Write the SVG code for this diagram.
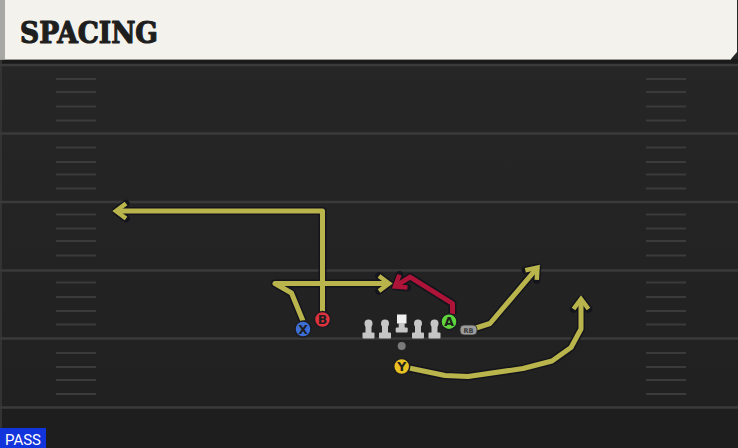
<svg xmlns="http://www.w3.org/2000/svg" width="738" height="448" viewBox="0 0 738 448">
<style>
.yl{stroke:#3a3a3a;stroke-width:2.5}
.hm{stroke:#3b3b3b;stroke-width:2}
.ro{fill:none;stroke:#14141c;stroke-width:8;stroke-linejoin:round;stroke-linecap:butt}
.ry{fill:none;stroke:#b9b54c;stroke-width:5;stroke-linejoin:round}
.rr{fill:none;stroke:#ad1438;stroke-width:5;stroke-linejoin:round}
.pc{stroke:#1c1c22;stroke-width:1.5}
.pl{font-family:"DejaVu Sans","Liberation Sans",sans-serif;font-weight:bold;font-size:12.5px;fill:#1e1e1e;text-anchor:middle}
.ol{fill:#c6c6c6}
</style>
<defs>
<linearGradient id="fg" x1="0" y1="0" x2="0" y2="1">
<stop offset="0" stop-color="#272727"/>
<stop offset="1" stop-color="#202020"/>
</linearGradient>
<marker id="mo" markerUnits="userSpaceOnUse" markerWidth="24" markerHeight="24" refX="0" refY="0" orient="auto" overflow="visible" viewBox="-12 -12 24 24">
<path d="M-10,-7.5 L0,0 L-10,7.5" fill="none" stroke="#14141c" stroke-width="7.5" stroke-linejoin="round" stroke-linecap="round"/>
</marker>
<marker id="my" markerUnits="userSpaceOnUse" markerWidth="24" markerHeight="24" refX="0" refY="0" orient="auto" overflow="visible" viewBox="-12 -12 24 24">
<path d="M-10,-7.5 L0,0 L-10,7.5" fill="none" stroke="#b9b54c" stroke-width="4.5" stroke-linejoin="miter" stroke-linecap="butt"/>
</marker>
<marker id="mr" markerUnits="userSpaceOnUse" markerWidth="24" markerHeight="24" refX="0" refY="0" orient="auto" overflow="visible" viewBox="-12 -12 24 24">
<path d="M-10,-7.5 L0,0 L-10,7.5" fill="none" stroke="#ad1438" stroke-width="4.5" stroke-linejoin="miter" stroke-linecap="butt"/>
</marker>
</defs>

<g id="field">
<rect x="0" y="0" width="738" height="448" fill="url(#fg)"/>
<rect x="0" y="408" width="738" height="40" fill="#1e1e1e"/>
<rect x="0" y="59" width="738" height="5" fill="#1a1a1a"/>
<rect x="0" y="60" width="2" height="388" fill="#333"/>
<line class="yl" x1="0" y1="65" x2="738" y2="65"/>
<line class="yl" x1="0" y1="133.5" x2="738" y2="133.5"/>
<line class="yl" x1="0" y1="202" x2="738" y2="202"/>
<line class="yl" x1="0" y1="270.5" x2="738" y2="270.5"/>
<line class="yl" x1="0" y1="338.5" x2="738" y2="338.5"/>
<line class="yl" x1="0" y1="407.5" x2="738" y2="407.5"/>
<g id="hashes-left">
<line class="hm" x1="56" y1="79" x2="96" y2="79"/>
<line class="hm" x1="56" y1="92" x2="96" y2="92"/>
<line class="hm" x1="56" y1="106.5" x2="96" y2="106.5"/>
<line class="hm" x1="56" y1="120.5" x2="96" y2="120.5"/>
<line class="hm" x1="56" y1="147.5" x2="96" y2="147.5"/>
<line class="hm" x1="56" y1="162" x2="96" y2="162"/>
<line class="hm" x1="56" y1="174.5" x2="96" y2="174.5"/>
<line class="hm" x1="56" y1="188.5" x2="96" y2="188.5"/>
<line class="hm" x1="56" y1="214.5" x2="96" y2="214.5"/>
<line class="hm" x1="56" y1="228.5" x2="96" y2="228.5"/>
<line class="hm" x1="56" y1="241" x2="96" y2="241"/>
<line class="hm" x1="56" y1="255.5" x2="96" y2="255.5"/>
<line class="hm" x1="56" y1="282.5" x2="96" y2="282.5"/>
<line class="hm" x1="56" y1="297" x2="96" y2="297"/>
<line class="hm" x1="56" y1="311" x2="96" y2="311"/>
<line class="hm" x1="56" y1="324.5" x2="96" y2="324.5"/>
<line class="hm" x1="56" y1="353" x2="96" y2="353"/>
<line class="hm" x1="56" y1="367" x2="96" y2="367"/>
<line class="hm" x1="56" y1="380" x2="96" y2="380"/>
<line class="hm" x1="56" y1="394" x2="96" y2="394"/>
</g>
<g id="hashes-right">
<line class="hm" x1="646" y1="79" x2="686" y2="79"/>
<line class="hm" x1="646" y1="92" x2="686" y2="92"/>
<line class="hm" x1="646" y1="106.5" x2="686" y2="106.5"/>
<line class="hm" x1="646" y1="120.5" x2="686" y2="120.5"/>
<line class="hm" x1="646" y1="147.5" x2="686" y2="147.5"/>
<line class="hm" x1="646" y1="162" x2="686" y2="162"/>
<line class="hm" x1="646" y1="174.5" x2="686" y2="174.5"/>
<line class="hm" x1="646" y1="188.5" x2="686" y2="188.5"/>
<line class="hm" x1="646" y1="214.5" x2="686" y2="214.5"/>
<line class="hm" x1="646" y1="228.5" x2="686" y2="228.5"/>
<line class="hm" x1="646" y1="241" x2="686" y2="241"/>
<line class="hm" x1="646" y1="255.5" x2="686" y2="255.5"/>
<line class="hm" x1="646" y1="282.5" x2="686" y2="282.5"/>
<line class="hm" x1="646" y1="297" x2="686" y2="297"/>
<line class="hm" x1="646" y1="311" x2="686" y2="311"/>
<line class="hm" x1="646" y1="324.5" x2="686" y2="324.5"/>
<line class="hm" x1="646" y1="353" x2="686" y2="353"/>
<line class="hm" x1="646" y1="367" x2="686" y2="367"/>
<line class="hm" x1="646" y1="380" x2="686" y2="380"/>
<line class="hm" x1="646" y1="394" x2="686" y2="394"/>
</g>
</g>

<g id="header">
<path d="M0,0 H737 V52 L731,59 H0 Z" fill="#f4f2ec"/>
<rect x="0" y="0" width="5" height="59" fill="#a8a8a4"/>
<line x1="0" y1="59.5" x2="731" y2="59.5" stroke="#9a9a96" stroke-width="1"/>
<text x="20" y="43" font-family="'DejaVu Serif','Liberation Serif',serif" font-weight="bold" font-size="29" fill="#1e1e1e" stroke="#1e1e1e" stroke-width="1.2" stroke-linejoin="round" textLength="138" lengthAdjust="spacingAndGlyphs">SPACING</text>
</g>

<g id="connectors">
<path class="ro" marker-end="url(#mo)" d="M322.5,312 L322.5,211 L116,211"/>
<path class="ro" marker-end="url(#mo)" d="M303,321 L291.5,293 L275,283.5 L389,283.5"/>
<path class="ro" marker-end="url(#mo)" d="M452.5,314 L452.5,303.5 L410,277 L395,286.5"/>
<path class="ro" marker-end="url(#mo)" d="M476,328 L490,323.5 L537.5,267.5"/>
<path class="ro" marker-end="url(#mo)" d="M409,368 L445,375.5 L468,376.5 L523,368.5 L552,361 L571,347.5 L581,329 L581,299"/>
<path class="ry" marker-end="url(#my)" d="M322.5,312 L322.5,211 L116,211"/>
<path class="ry" marker-end="url(#my)" d="M303,321 L291.5,293 L275,283.5 L389,283.5"/>
<path class="rr" marker-end="url(#mr)" d="M452.5,314 L452.5,303.5 L410,277 L395,286.5"/>
<path class="ry" marker-end="url(#my)" d="M476,328 L490,323.5 L537.5,267.5"/>
<path class="ry" marker-end="url(#my)" d="M409,368 L445,375.5 L468,376.5 L523,368.5 L552,361 L571,347.5 L581,329 L581,299"/>
</g>

<g id="line-LT">
<circle class="ol" cx="368.5" cy="323.5" r="4"/>
<rect class="ol" x="365.5" y="323.5" width="6" height="10"/>
<rect class="ol" x="362.5" y="332.5" width="12" height="6" rx="1"/>
</g>
<g id="line-LG">
<circle class="ol" cx="385" cy="323.5" r="4"/>
<rect class="ol" x="382" y="323.5" width="6" height="10"/>
<rect class="ol" x="379" y="332.5" width="12" height="6" rx="1"/>
</g>
<g id="line-C">
<rect x="397" y="314.5" width="9.5" height="9" fill="#f0f0f0"/>
<rect class="ol" x="398.7" y="323" width="6" height="6"/>
<rect class="ol" x="395.7" y="327.5" width="12" height="5" rx="1"/>
</g>
<g id="line-RG">
<circle class="ol" cx="418" cy="323.5" r="4"/>
<rect class="ol" x="415" y="323.5" width="6" height="10"/>
<rect class="ol" x="412" y="332.5" width="12" height="6" rx="1"/>
</g>
<g id="line-RT">
<circle class="ol" cx="434.5" cy="323.5" r="4"/>
<rect class="ol" x="431.5" y="323.5" width="6" height="10"/>
<rect class="ol" x="428.5" y="332.5" width="12" height="6" rx="1"/>
</g>
<g id="qb">
<circle cx="401.7" cy="346" r="4" fill="#7a7a7a"/>
</g>
<g id="rb">
<rect x="460" y="325" width="17" height="10" rx="4" fill="#9c9c9c" stroke="#2a2a2a" stroke-width="0.8"/>
<text x="468.5" y="332.6" font-family="'DejaVu Sans','Liberation Sans',sans-serif" font-weight="bold" font-size="6.5" fill="#3a3a3a" text-anchor="middle">RB</text>
</g>
<g id="player-X">
<circle class="pc" cx="303" cy="329" r="8" fill="#3d6fd6"/>
<text class="pl" x="303" y="333.5">X</text>
</g>
<g id="player-B">
<circle class="pc" cx="322.5" cy="319.5" r="8" fill="#e0323e"/>
<text class="pl" x="322.5" y="324">B</text>
</g>
<g id="player-A">
<circle class="pc" cx="449" cy="321.7" r="8" fill="#5fd43c"/>
<text class="pl" x="449" y="326.2">A</text>
</g>
<g id="player-Y">
<circle class="pc" cx="401.7" cy="366.5" r="8" fill="#e8c022"/>
<text class="pl" x="401.7" y="371">Y</text>
</g>

<g id="pass-tag">
<rect x="0" y="428" width="46" height="20" fill="#1234dc"/>
<text x="5" y="444.5" font-family="Roboto,'Liberation Sans',sans-serif" font-size="15.5" fill="#ffffff" textLength="36" lengthAdjust="spacingAndGlyphs">PASS</text>
</g>
</svg>
